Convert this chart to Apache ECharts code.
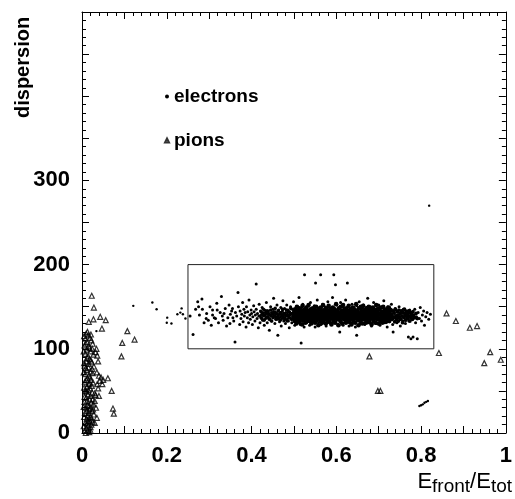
<!DOCTYPE html>
<html><head><meta charset="utf-8">
<script src="https://cdn.jsdelivr.net/npm/echarts@6/dist/echarts.min.js"></script>
<style>html,body{margin:0;padding:0;background:#fff}#c{width:515px;height:499px}</style>
</head><body><div id="c"></div>
<script>
// ---- data ----
const xTickLabels = [0, 0.2, 0.4, 0.6, 0.8, 1];
const yTickLabels = [0, 100, 200, 300];
const legendNames = ['electrons', 'pions'];
const selectionBox = [[0.25,100],[0.83,100],[0.83,200],[0.25,200],[0.25,100]];

const electronsOutside = [[.034,121],[.121,151],[.166,155],[.176,147],[.201,137],[.200,131],[.211,130],[.225,141],[.232,143],[.235,148],[.238,141],[.244,136],[.819,270],[.796,32],[.800,33],[.804,34],[.808,36],[.812,37],[.816,38]];

const electronsBox = [
[.255,139],[.262,117],[.268,147],[.273,156],[.275,150],[.277,140],[.283,159],[.284,147],[.288,131],[.293,136],[.294,142],[.298,134],[.302,150],[.305,128],[.308,146],[.308,140],[.312,137],[.315,136],[.318,154],[.319,146],[.322,131],[.326,143],[.329,162],[.331,139],[.333,134],[.335,142],[.338,148],[.341,127],[.344,137],[.347,152],[.349,130],[.350,141],[.353,145],[.355,148],[.356,137],[.358,133],[.361,108],[.362,143],[.365,139],[.368,167],[.369,150],[.372,129],
[.373,145],[.375,136],[.377,141],[.379,155],[.380,132],[.382,147],[.383,139],[.385,143],[.387,126],[.388,150],[.390,137],[.391,144],[.393,131],[.394,158],[.396,140],[.397,135],[.399,146],[.400,142],[.402,129],[.403,138],[.405,151],[.406,144],[.408,133],[.409,140],[.411,177],[.411,147],[.413,136],[.414,142],[.416,125],[.417,139],[.418,153],[.420,131],[.421,145],[.422,137],[.424,141],
[.425,149],[.426,134],[.427,143],[.428,139],[.430,128],[.431,146],[.432,140],[.433,136],[.435,155],[.436,142],[.437,131],[.438,138],[.440,145],[.441,141],[.442,122],[.443,136],[.445,150],[.446,139],[.447,143],[.448,133],[.450,147],[.451,138],[.452,160],[.453,142],[.455,130],[.456,144],[.457,137],[.458,141],[.460,152],[.461,135],[.462,116],[.463,140],[.464,146],[.466,132],[.467,143],[.468,138],[.469,149],[.470,127],[.471,141],[.472,136],[.473,145],[.474,157],[.475,139],[.476,133],[.477,142],
[.478,148],[.479,137],[.480,130],[.481,143],[.482,139],[.483,152],[.484,135],[.485,141],[.486,146],[.487,133],[.488,138],[.489,125],[.490,144],[.491,140],[.492,150],[.493,136],[.494,142],[.495,131],[.496,147],[.497,139],[.498,135],[.499,156],[.500,143],[.501,138],[.502,128],[.503,145],[.504,140],[.505,134],[.506,149],[.507,137],[.508,142],[.509,132],[.510,146],[.511,139],[.512,161],[.513,135],[.514,143],[.515,129],[.516,140],[.517,107],[.517,148],[.518,136],[.519,141],[.520,133],[.521,153],[.522,138],[.523,144],[.524,126],[.525,188],[.525,140],[.526,135],[.527,147],[.528,139],[.529,143],[.530,131],
[.531,150],[.532,137],[.533,142],[.534,134],[.535,145],[.536,139],[.537,128],[.538,141],[.539,155],[.540,136],[.541,144],[.542,140],[.543,132],[.544,148],[.545,138],[.546,143],[.547,135],[.548,151],[.549,141],[.550,126],[.551,178],[.551,146],[.552,137],[.553,142],[.554,133],[.555,158],[.556,139],[.557,145],[.558,131],[.559,140],[.560,149],[.561,136],[.562,143],[.563,188],[.563,138],[.564,129],[.565,147],[.566,141],[.567,134],[.568,153],[.569,139],[.570,144],[.571,132],[.572,140],[.573,150],[.574,137],[.575,142],[.576,127],[.577,146],[.578,135],[.579,141],[.580,156],[.581,138],[.582,144],[.583,133],[.584,149],[.585,139],[.586,142],[.587,130],[.588,147],[.589,136],[.590,143],[.591,161],[.592,139],[.593,134],
[.594,188],[.594,145],[.595,140],[.596,131],[.597,148],[.598,176],[.598,137],[.599,142],[.600,135],[.601,152],[.602,139],[.603,144],[.604,129],[.605,141],[.606,147],[.607,136],[.608,120],[.608,143],[.609,138],[.610,155],[.611,133],[.612,140],[.613,146],[.614,137],[.615,142],[.616,128],[.617,149],[.618,139],[.619,135],[.620,144],[.621,140],[.622,158],[.623,132],[.624,146],[.625,138],[.626,178],[.626,143],[.627,136],[.628,150],[.629,141],[.630,127],[.631,145],[.632,139],[.633,134],[.634,147],[.635,142],[.636,137],[.637,153],[.638,131],[.639,140],[.640,145],[.641,136],[.642,149],[.643,141],[.644,138],[.645,126],[.646,144],[.647,139],[.648,116],[.648,151],[.649,135],[.650,142],[.651,147],[.652,133],[.653,140],[.654,156],[.655,137],[.656,143],[.657,130],[.658,146],[.659,139],[.660,134],[.661,148],[.662,141],[.663,136],
[.664,152],[.665,144],[.666,138],[.667,129],[.668,145],[.669,140],[.670,135],[.671,149],[.672,142],[.673,137],[.674,160],[.675,131],[.676,146],[.677,139],[.678,143],[.679,134],[.680,150],[.681,138],[.682,144],[.683,127],[.684,141],[.685,147],[.686,136],[.687,142],[.688,155],[.689,133],[.690,140],[.691,146],[.692,137],[.693,143],[.694,130],[.695,148],[.696,139],[.697,135],[.698,144],[.699,141],[.700,152],[.701,136],[.702,142],[.703,128],[.704,146],[.705,138],[.706,143],[.707,133],[.708,149],[.709,140],[.710,136],[.711,145],[.712,157],[.713,131],[.714,141],[.715,138],[.716,147],[.717,134],[.718,143],[.719,139],[.720,126],[.721,150],[.722,137],[.723,144],[.724,140],[.725,132],[.726,146],[.727,138],[.728,142],
[.729,135],[.730,153],[.731,140],[.733,129],[.734,120],[.734,145],[.736,137],[.737,142],[.739,148],[.740,134],[.742,139],[.743,131],[.745,144],[.746,137],[.748,150],[.749,141],[.751,127],[.752,136],[.754,143],[.755,139],[.757,133],[.758,147],[.760,138],[.761,142],[.763,130],[.765,145],[.766,136],[.768,140],[.770,114],[.771,133],[.773,146],[.775,138],[.776,112],[.778,142],[.780,135],[.781,114],[.783,140],[.785,147],[.787,131],[.789,138],[.791,112],[.793,143],[.796,136],[.798,149],[.801,133],[.803,140],[.806,145],[.808,128],[.811,138],[.814,143],[.818,135],[.822,141]
];

const electronsCoreLeft = [
[.4205,139],[.4225,144],[.4241,136],[.4262,141],[.4278,147],[.4296,134],[.4313,140],[.4331,143],[.4350,137],[.4366,145],[.4384,138],[.4401,142],[.4419,135],[.4437,140],[.4452,146],[.4470,133],[.4488,141],[.4505,137],[.4523,144],[.4540,139],[.4557,148],[.4575,135],[.4592,142],[.4610,138],[.4627,145],[.4645,136],[.4662,141],[.4680,134],[.4697,143],[.4715,139],[.4732,147],[.4750,137],[.4767,142],[.4785,135],[.4802,140],[.4820,146],[.4837,133],[.4855,139],[.4872,144],[.4890,137],[.4907,141],[.4925,148],[.4942,135],[.4960,142],[.4977,138],[.4995,145]];

const electronsCoreMid = [
[.5005,140],[.5016,133],[.5027,147],[.5038,137],[.5049,143],[.5060,130],[.5071,150],[.5082,139],[.5093,135],[.5104,145],[.5115,141],[.5126,132],[.5137,148],[.5148,138],[.5159,144],[.5170,136],[.5181,142],[.5192,129],[.5203,151],[.5214,140],[.5225,134],[.5236,146],[.5247,139],[.5258,143],[.5269,131],[.5280,137],[.5291,149],[.5302,141],[.5313,135],[.5324,145],[.5335,138],[.5346,152],[.5357,133],[.5368,142],[.5379,140],[.5390,147],[.5401,136],[.5412,130],[.5423,144],[.5434,139],[.5445,148],[.5456,134],[.5467,141],[.5478,137],[.5489,146],[.5500,131],[.5511,143],[.5522,150],[.5533,138],[.5544,135],[.5555,145],[.5566,140],[.5577,128],[.5588,147],[.5599,136],[.5610,142],[.5621,133],[.5632,149],[.5643,139],[.5654,144],[.5665,131],[.5676,137],[.5687,152],[.5698,141],[.5709,135],[.5720,146],[.5731,138],[.5742,143],[.5753,130],[.5764,148],[.5775,140],[.5786,134],[.5797,145],[.5808,137],[.5819,151],[.5830,132],[.5841,142],[.5852,139],[.5863,147],[.5874,136],[.5885,129],[.5896,144],[.5907,140],[.5918,149],[.5929,133],[.5940,141],[.5951,137],[.5962,146],[.5973,131],[.5984,143],[.5995,153],
[.6006,138],[.6017,135],[.6028,145],[.6039,140],[.6050,128],[.6061,148],[.6072,136],[.6083,142],[.6094,133],[.6105,150],[.6116,139],[.6127,144],[.6138,130],[.6149,137],[.6160,152],[.6171,141],[.6182,135],[.6193,146],[.6204,138],[.6215,143],[.6226,131],[.6237,148],[.6248,140],[.6259,134],[.6270,145],[.6281,137],[.6292,151],[.6303,132],[.6314,142],[.6325,139],[.6336,147],[.6347,136],[.6358,129],[.6369,144],[.6380,140],[.6391,149],[.6402,133],[.6413,141],[.6424,137],[.6435,146],[.6446,131],[.6457,143],[.6468,153],[.6479,138],[.6490,135],[.6501,145],[.6512,140],[.6523,128],[.6534,148],[.6545,136],[.6556,142],[.6567,133],[.6578,150],[.6589,139],[.6600,144],[.6611,130],[.6622,137],[.6633,151],[.6644,141],[.6655,135],[.6666,146],[.6677,138],[.6688,143],[.6699,131],[.6710,148],[.6721,140],[.6732,134],[.6743,145],[.6754,137],[.6765,150],[.6776,132],[.6787,142],[.6798,139],[.6809,147],[.6820,136],[.6831,129],[.6842,144],[.6853,140],[.6864,149],[.6875,133],[.6886,141],[.6897,137],[.6908,146],[.6919,131],[.6930,143],[.6941,152],[.6952,138],[.6963,135],[.6974,145],[.6985,140],[.6996,130],[.7007,148],[.7018,136],[.7029,142],[.7040,133],[.7051,149],[.7062,139],[.7073,144],[.7084,131],[.7095,137],[.7106,150],[.7117,141],[.7128,135],[.7139,146],[.7150,138],[.7161,143],[.7172,132],[.7183,147],[.7194,140],[.7205,134],[.7216,145],[.7227,137],[.7238,149],[.7249,133],[.7260,142],[.7271,139],[.7282,146],[.7293,136]];

const electronsCoreRight = [
[.7305,141],[.7320,135],[.7334,145],[.7348,138],[.7362,143],[.7377,132],[.7391,147],[.7405,139],[.7420,136],[.7434,144],[.7448,140],[.7463,133],[.7477,146],[.7491,138],[.7506,142],[.7520,135],[.7534,145],[.7549,139],[.7563,131],[.7577,143],[.7592,137],[.7606,147],[.7620,140],[.7635,134],[.7649,144],[.7663,138],[.7678,142],[.7692,136],[.7706,145],[.7721,139],[.7735,133],[.7749,143],[.7764,137],[.7778,141],[.7792,135],[.7806,144],[.7821,139],[.7850,137],[.7880,142],[.7910,136]];

const pionsColumn = [[.010,118],[.015,116],[.008,112],[.019,113],[.012,108],[.022,110],[.006,104],[.016,103],[.025,106],[.011,99],[.020,97],[.008,94],[.014,91],[.027,93],[.018,88],[.010,85],[.023,84],[.006,80],[.015,78],[.028,79],[.011,75],[.020,73],[.008,70],[.017,68],[.025,71],[.013,65],[.021,63],[.007,61],[.016,58],[.026,60],[.011,55],[.019,53],[.008,50],[.024,48],[.014,46],[.030,47],[.010,42],[.018,40],[.006,37],[.022,36],[.013,33],[.027,34],[.009,30],[.017,28],[.024,26],[.007,24],[.014,21],[.021,19],[.028,22],[.011,17],[.018,14],[.008,12],[.025,13],[.015,9],[.010,6],[.020,7],[.013,3],[.017,1],[.009,0],
[.005,115],[.013,120],[.021,117],[.009,106],[.018,101],[.004,97],[.024,100],[.012,89],[.021,86],[.005,83],[.016,82],[.009,77],[.024,76],[.004,72],[.019,66],[.010,63],[.023,56],[.005,54],[.015,51],[.020,44],[.006,43],[.012,38],[.025,40],[.016,32],[.004,31],[.020,30],[.011,26],[.026,28],[.005,19],[.017,18],[.023,16],[.012,11],[.004,8],[.019,4],[.007,3],[.022,10],[.014,14],[.016,24],[.010,49],[.018,59]];
const pionsSpread = [[.023,163],[.028,149],[.016,132],[.027,135],[.043,138],[.056,134],[.047,124],[.107,121],[.124,111],[.095,107],[.093,91],[.061,65],[.070,50],[.073,29],[.075,23],[.034,100],[.032,96],[.036,92],[.038,85],[.035,72],[.040,68],[.045,66],[.042,62],[.050,63],[.036,58],[.048,58],[.038,53],[.032,45],[.040,44],[.030,38],[.033,30],[.035,18],[.030,12]];
const pionsRight = [[.860,142],[.882,133],[.915,125],[.932,127],[.842,95],[.963,96],[.949,83],[.988,87],[.678,91],[.698,50],[.704,50]];

// ---- chart ----
const FONT = 'Liberation Sans, Arial, Helvetica, sans-serif';
const chart = echarts.init(document.getElementById('c'), null, {renderer: 'canvas'});
const near = (v, arr) => arr.some(a => Math.abs(a - v) < 1e-6);
const axisCommon = {
  axisLine: {show: true, onZero: false, lineStyle: {color: '#000', width: 1}},
  splitLine: {show: false},
  axisTick: {show: true, inside: true, length: 7, lineStyle: {color: '#000'}},
  minorTick: {show: true, splitNumber: 5, length: 4, lineStyle: {color: '#000'}},
  minorSplitLine: {show: false}
};
const dotSeries = (data, size) => ({name: 'electrons', type: 'scatter', symbol: 'circle', symbolSize: size,
  xAxisIndex: 0, yAxisIndex: 0, itemStyle: {color: '#000', opacity: 1}, data: data});
chart.setOption({
  animation: false,
  backgroundColor: '#fff',
  grid: {left: 82, right: 4, top: 12, bottom: 66, containLabel: false},
  legend: {
    orient: 'vertical', left: 164, top: 87, padding: 0, itemGap: 25,
    itemWidth: 4, itemHeight: 4, selectedMode: false,
    data: legendNames,
    textStyle: {fontFamily: FONT, fontWeight: 'bold', fontSize: 19, color: '#000'}
  },
  xAxis: [
    Object.assign({type: 'value', min: 0, max: 1, interval: 0.1, position: 'bottom',
      axisLabel: {show: true, margin: 12, fontFamily: FONT, fontWeight: 'bold', fontSize: 22, color: '#000',
        formatter: v => near(v, xTickLabels) ? String(+v.toFixed(1)) : ''}}, axisCommon),
    Object.assign({type: 'value', min: 0, max: 1, interval: 0.1, position: 'top',
      axisLabel: {show: false}}, axisCommon)
  ],
  yAxis: [
    Object.assign({type: 'value', min: 0, max: 500, interval: 50, position: 'left',
      axisLabel: {show: true, margin: 12, fontFamily: FONT, fontWeight: 'bold', fontSize: 22, color: '#000',
        formatter: v => near(v, yTickLabels) ? String(v) : ''}}, axisCommon),
    Object.assign({type: 'value', min: 0, max: 500, interval: 50, position: 'right',
      axisLabel: {show: false}}, axisCommon)
  ],
  graphic: [
    {type: 'text', x: 13, y: 118, rotation: Math.PI / 2,
      style: {text: 'dispersion', font: 'bold 20px ' + FONT, fill: '#000', textAlign: 'left', textVerticalAlign: 'top'}},
    {type: 'text', right: 3, top: 471,
      style: {text: '{b|E}{s|front}{b|/E}{s|tot}', fill: '#000',
        rich: {b: {fontFamily: FONT, fontSize: 22, verticalAlign: 'bottom', lineHeight: 23},
               s: {fontFamily: FONT, fontSize: 19, verticalAlign: 'bottom', lineHeight: 19, padding: [0,0,-3,0]}}}}
  ],
  series: [
    dotSeries(electronsBox, 3),
    dotSeries(electronsCoreLeft, 3.6),
    dotSeries(electronsCoreMid, 4.6),
    dotSeries(electronsCoreRight, 3.8),
    dotSeries(electronsOutside, 2.4),
    {name: 'pions', type: 'scatter', symbol: 'triangle', symbolSize: 5, xAxisIndex: 0, yAxisIndex: 0,
      itemStyle: {color: 'rgba(255,255,255,0)', borderColor: '#000', borderWidth: 1.2},
      data: pionsColumn.concat(pionsSpread, pionsRight)},
    {name: 'box', type: 'line', xAxisIndex: 0, yAxisIndex: 0, symbol: 'none', silent: true,
      lineStyle: {color: '#222', width: 1}, data: selectionBox}
  ]
});
</script></body></html>
